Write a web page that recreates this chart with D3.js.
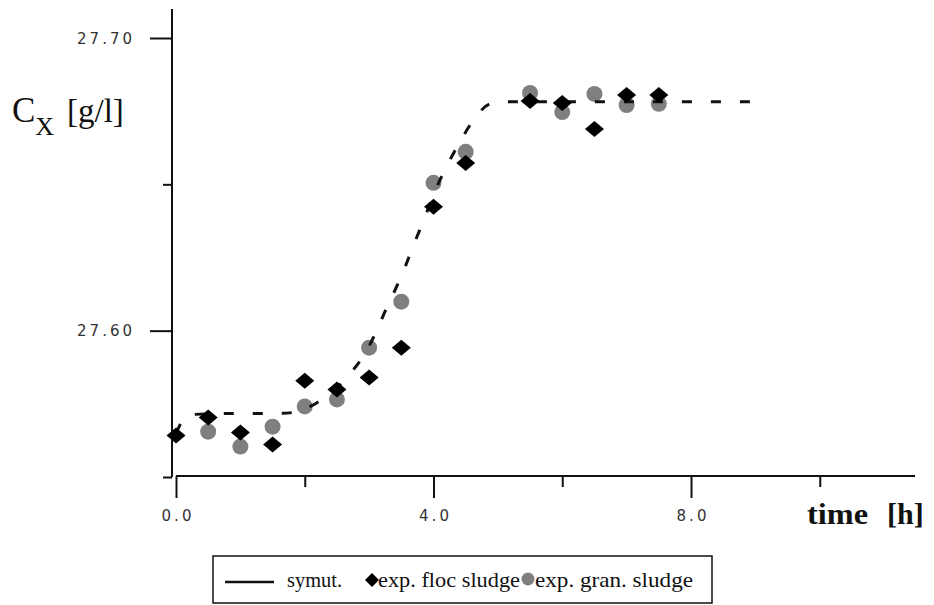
<!DOCTYPE html>
<html>
<head>
<meta charset="utf-8">
<script src="https://cdn.jsdelivr.net/npm/d3@7"></script>
<style>
  html, body { margin: 0; padding: 0; background: #fff; }
  svg { display: block; }
</style>
</head>
<body>
<svg id="chart" width="934" height="605"></svg>
<script>
// ── Data ────────────────────────────────────────────────────────────
const FLOC_T  = [0, 0.5, 1, 1.5, 2, 2.5, 3, 3.5, 4, 4.5, 5.5, 6, 6.5, 7, 7.5];
const FLOC_CX = [27.5642, 27.5703, 27.5652, 27.5611, 27.5829, 27.5799, 27.5840, 27.5942,
                 27.6423, 27.6573, 27.6785, 27.6778, 27.6689, 27.6805, 27.6805];

const GRAN_T  = [0.5, 1, 1.5, 2, 2.5, 3, 3.5, 4, 4.5, 5.5, 6, 6.5, 7, 7.5];
const GRAN_CX = [27.5655, 27.5604, 27.5672, 27.5741, 27.5765, 27.5942, 27.6099,
                 27.6505, 27.6611, 27.6812, 27.6747, 27.6809, 27.6771, 27.6775];

const SIM_T  = [0, 0.2, 0.9, 1.5, 1.8, 2.19, 2.73, 2.97, 3.11, 3.26, 3.42, 3.56, 3.68,
                3.82, 4.08, 4.24, 4.41, 4.6, 4.88, 5.08, 9.0];
const SIM_CX = [27.5650, 27.5713, 27.5717, 27.5717, 27.5720, 27.5754, 27.5860, 27.5935,
                27.5997, 27.6072, 27.6147, 27.6218, 27.6287, 27.6362, 27.6505, 27.6577,
                27.6645, 27.6713, 27.6775, 27.6782, 27.6782];

const X_MAJOR = [0, 4, 8];
const X_MINOR = [2, 6, 10];
const Y_MAJOR = [27.60, 27.70];
const Y_MINOR = [27.55, 27.65];

const LEGEND = ["symut.", "exp. floc sludge", "exp. gran. sludge"];

// ── Scales ──────────────────────────────────────────────────────────
const svg = d3.select("#chart");
const x = d3.scaleLinear().domain([0, 8]).range([176, 691]);
const y = d3.scaleLinear().domain([27.55, 27.70]).range([477, 38]);

const AX_COLOR = "#111";
const SERIF = '"Liberation Serif", "Times New Roman", Times, serif';
const SANS  = '"DejaVu Sans", Verdana, sans-serif';

// ── Axes ────────────────────────────────────────────────────────────
svg.append("line")
  .attr("x1", 172).attr("x2", 172).attr("y1", 9).attr("y2", 477)
  .attr("stroke", AX_COLOR).attr("stroke-width", 2);
svg.append("line")
  .attr("x1", x(0)).attr("x2", 915).attr("y1", 476).attr("y2", 476)
  .attr("stroke", AX_COLOR).attr("stroke-width", 2);

const yMaj = svg.append("g").attr("transform", "translate(172,0)")
  .call(d3.axisLeft(y).tickValues(Y_MAJOR).tickSize(22).tickFormat(d3.format(".2f")));
const yMin = svg.append("g").attr("transform", "translate(172,0)")
  .call(d3.axisLeft(y).tickValues(Y_MINOR).tickSize(9).tickFormat(""));
const xMaj = svg.append("g").attr("transform", "translate(0,476)")
  .call(d3.axisBottom(x).tickValues(X_MAJOR).tickSize(22).tickFormat(d3.format(".1f")));
const xMin = svg.append("g").attr("transform", "translate(0,476)")
  .call(d3.axisBottom(x).tickValues(X_MINOR).tickSize(11).tickFormat(""));

[yMaj, yMin, xMaj, xMin].forEach(g => {
  g.attr("font-family", SANS).attr("font-size", 15);
  g.select(".domain").remove();
  g.selectAll(".tick line").attr("stroke", AX_COLOR).attr("stroke-width", 2);
  g.selectAll(".tick text").attr("fill", "#333").style("letter-spacing", "3px");
});
yMaj.selectAll(".tick text").attr("x", -37).attr("dy", "0.35em");
xMaj.selectAll(".tick text").attr("y", 34).attr("dx", 1.5).attr("dy", "0.71em");

// ── Axis titles ─────────────────────────────────────────────────────
const yTitle = svg.append("text").attr("font-family", SERIF).attr("fill", "#111").attr("y", 122);
yTitle.append("tspan").attr("x", 12).attr("font-size", 35).text("C");
yTitle.append("tspan").attr("font-size", 26).attr("dy", 13).text("X");
yTitle.append("tspan").attr("font-size", 33).attr("dy", -13).attr("x", 67).text("[g/l]");

svg.append("text").attr("font-family", SERIF).attr("fill", "#111")
  .attr("x", 807).attr("y", 524)
  .attr("font-size", 30).attr("font-weight", "bold")
  .attr("textLength", 61).attr("lengthAdjust", "spacingAndGlyphs")
  .text("time");
svg.append("text").attr("font-family", SERIF).attr("fill", "#111")
  .attr("x", 887).attr("y", 524)
  .attr("font-size", 30).attr("font-weight", "bold")
  .text("[h]");

// ── Marks ───────────────────────────────────────────────────────────
const diamond = (hw, hh) => `M0,${-hh}L${hw},0L0,${hh}L${-hw},0Z`;

const gran = GRAN_T.map((t, i) => ({ t, v: GRAN_CX[i] }));
const floc = FLOC_T.map((t, i) => ({ t, v: FLOC_CX[i] }));
const sim  = SIM_T.map((t, i) => ({ t, v: SIM_CX[i] }));

svg.append("g").selectAll("circle")
  .data(gran).join("circle")
  .attr("cx", d => x(d.t)).attr("cy", d => y(d.v))
  .attr("r", 8).attr("fill", "#7f7f7f");

svg.append("path")
  .datum(sim)
  .attr("d", d3.line().x(d => x(d.t)).y(d => y(d.v)).curve(d3.curveMonotoneX))
  .attr("fill", "none").attr("stroke", "#111").attr("stroke-width", 3)
  .attr("stroke-dasharray", "10,19");

svg.append("g").selectAll("path")
  .data(floc).join("path")
  .attr("transform", d => `translate(${x(d.t)},${y(d.v)})`)
  .attr("d", diamond(9.5, 8)).attr("fill", "#000");

// ── Legend ──────────────────────────────────────────────────────────
const lg = svg.append("g");
lg.append("rect")
  .attr("x", 213).attr("y", 556).attr("width", 499).attr("height", 47)
  .attr("fill", "#fff").attr("stroke", "#111").attr("stroke-width", 1.5);
lg.append("line")
  .attr("x1", 225).attr("x2", 274).attr("y1", 582).attr("y2", 582)
  .attr("stroke", "#111").attr("stroke-width", 2.5);
lg.append("path")
  .attr("transform", "translate(372,580)")
  .attr("d", diamond(7, 7)).attr("fill", "#000");
lg.append("circle")
  .attr("cx", 528).attr("cy", 579).attr("r", 6.5).attr("fill", "#7f7f7f");

const LEG_X = [287, 378, 535];
const LEG_W = [55, 142, 158];
lg.selectAll("text.leg")
  .data(LEGEND).join("text")
  .attr("class", "leg")
  .attr("font-family", SERIF).attr("fill", "#111")
  .attr("x", (d, i) => LEG_X[i]).attr("y", 587)
  .attr("font-size", 22)
  .attr("textLength", (d, i) => LEG_W[i]).attr("lengthAdjust", "spacingAndGlyphs")
  .text(d => d);
</script>
</body>
</html>
